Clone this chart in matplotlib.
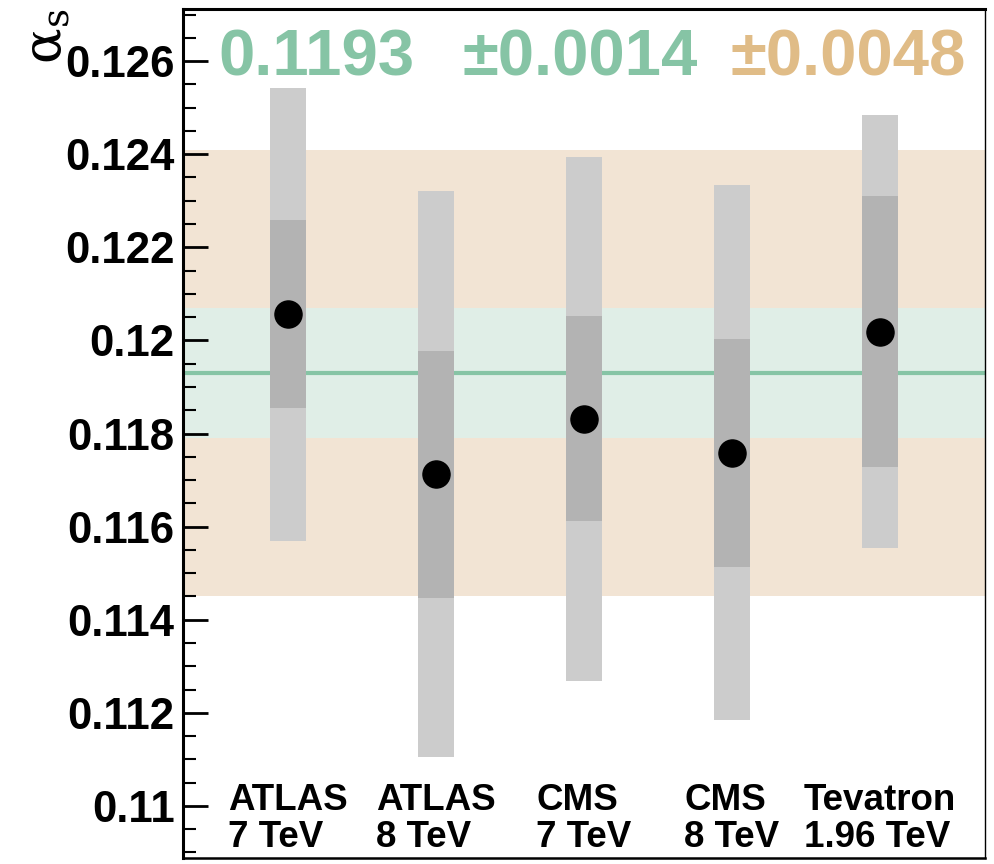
import matplotlib
matplotlib.use("Agg")
import matplotlib.pyplot as plt
from matplotlib.ticker import MultipleLocator, FuncFormatter

labels = ["ATLAS\n7 TeV", "ATLAS\n8 TeV", "CMS\n7 TeV", "CMS\n8 TeV", "Tevatron\n1.96 TeV"]
central = [0.12056, 0.11712, 0.11832, 0.11759, 0.12019]
inner_lo = [0.11854, 0.11447, 0.11611, 0.11514, 0.11729]
inner_hi = [0.12258, 0.11978, 0.12052, 0.12004, 0.12310]
outer_lo = [0.11570, 0.11105, 0.11269, 0.11185, 0.11555]
outer_hi = [0.12542, 0.12320, 0.12394, 0.12333, 0.12484]

avg = 0.1193
err_exp = 0.0014
err_tot = 0.0048

GREEN = "#86c4a5"
ORANGE = "#e0bc87"

plt.rcParams["font.family"] = ["Liberation Sans", "DejaVu Sans"]
plt.rcParams["font.weight"] = "bold"

fig = plt.figure(figsize=(9.94, 8.64), dpi=100)
ax = fig.add_axes([0.1841, 0.0069, 0.8069, 0.9827])

ax.axhspan(avg - err_tot, avg + err_tot, color="#f2e4d4", lw=0, zorder=0)
ax.axhspan(avg - err_exp, avg + err_exp, color="#e0eee7", lw=0, zorder=0.5)
ax.axhline(avg, color=GREEN, lw=3, zorder=1)

xs = list(range(1, len(labels) + 1))
w = 0.243
ax.bar(xs, [h - l for l, h in zip(outer_lo, outer_hi)], bottom=outer_lo,
       width=w, color="#cccccc", lw=0, zorder=2)
ax.bar(xs, [h - l for l, h in zip(inner_lo, inner_hi)], bottom=inner_lo,
       width=w, color="#b3b3b3", lw=0, zorder=3)
ax.plot(xs, central, "o", color="black", ms=19.5, zorder=4)

for x, lab in zip(xs, labels):
    ax.text(x, 0.013, lab, transform=ax.get_xaxis_transform(), ha="center",
            va="baseline", multialignment="left", fontsize=26.5,
            fontweight="bold", linespacing=1.08)

ax.text(0.0436, 0.922, f"{avg:.4f}", transform=ax.transAxes, color=GREEN,
        fontsize=47, fontweight="bold", va="baseline", ha="left")
ax.text(0.349, 0.922, f"\u00b1{err_exp:.4f}", transform=ax.transAxes, color=GREEN,
        fontsize=47, fontweight="bold", va="baseline", ha="left")
ax.text(0.683, 0.922, f"\u00b1{err_tot:.4f}", transform=ax.transAxes, color=ORANGE,
        fontsize=47, fontweight="bold", va="baseline", ha="left")

ax.set_xlim(0.29, 5.71)
ax.set_ylim(0.10888, 0.12712)
ax.set_xticks([])

ax.yaxis.set_major_locator(MultipleLocator(0.002))
ax.yaxis.set_minor_locator(MultipleLocator(0.0005))
ax.yaxis.set_major_formatter(FuncFormatter(lambda v, p: f"{v:g}"))
ax.tick_params(axis="y", which="major", direction="in", length=18, width=2,
               labelsize=31.5, pad=6)
ax.tick_params(axis="y", which="minor", direction="in", length=9, width=1.5)
for t in ax.get_yticklabels():
    t.set_fontweight("bold")

ax.set_ylabel(r"$\mathregular{\alpha_s}$", fontsize=38, fontweight="normal",
              loc="top", rotation=90, family="DejaVu Serif")
ax.yaxis.set_label_coords(-0.138, 1.0)

ax.spines["left"].set_linewidth(2.2)
ax.spines["top"].set_linewidth(2.2)
ax.spines["bottom"].set_linewidth(1.8)
ax.spines["right"].set_linewidth(1.0)
for s in ax.spines.values():
    s.set_zorder(5)

fig.savefig("out.png", dpi=100)
